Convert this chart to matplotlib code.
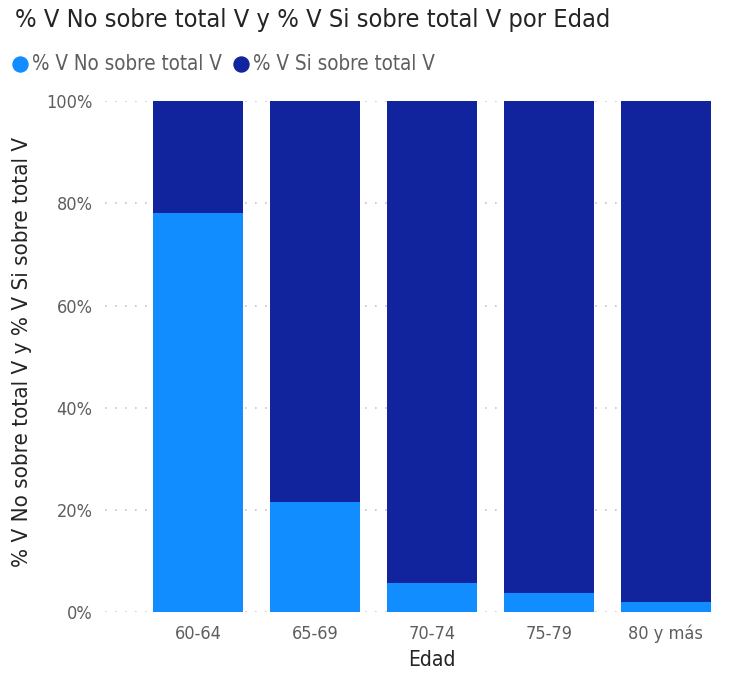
import matplotlib.pyplot as plt
import numpy as np
from matplotlib.lines import Line2D

plt.rcParams['font.family'] = ['DejaVu Sans']
plt.rcParams['font.stretch'] = 'condensed'

edades = ["60-64", "65-69", "70-74", "75-79", "80 y más"]
pct_no = [0.781, 0.216, 0.057, 0.038, 0.020]
pct_si = [1 - v for v in pct_no]

color_no = "#118DFF"
color_si = "#12239E"

fig = plt.figure(figsize=(7.3, 6.73), dpi=100)
ax = fig.add_axes([0.144, 0.0906, 0.835, 0.759])

x = np.arange(len(edades))
ax.bar(x, pct_no, width=0.77, color=color_no, zorder=3)
ax.bar(x, pct_si, width=0.77, bottom=pct_no, color=color_si, zorder=3)

ax.set_xlim(-0.795, 4.42)
ax.set_ylim(0, 1)
ax.set_yticks(np.arange(0, 1.01, 0.2))
ax.set_yticklabels([f"{int(round(v * 100))}%" for v in np.arange(0, 1.01, 0.2)])
ax.set_xticks(x)
ax.set_xticklabels(edades)
ax.tick_params(axis='both', length=0, labelsize=13, labelcolor="#605E5C")
ax.tick_params(axis='y', pad=9)
ax.tick_params(axis='x', pad=9)

ax.grid(axis='y', color="#C8C6C4", linestyle=(0, (1, 5)), linewidth=1.2, zorder=0)
for s in ax.spines.values():
    s.set_visible(False)

# axis titles centred on the bars, as in the original
ax.text(np.mean(x), -0.094, "Edad", transform=ax.get_xaxis_transform(),
        fontsize=15, color="#252423", ha='center', va='center')
fig.text(0.030, 0.477, "% V No sobre total V y % V Si sobre total V", rotation=90,
         fontsize=16, color="#252423", ha='center', va='center')

fig.text(0.020, 0.988, "% V No sobre total V y % V Si sobre total V por Edad",
         fontsize=18.2, color="#252423", va='top', ha='left')

# legend
ly = 1 - 64 / 673
fig.add_artist(Line2D([20 / 730], [ly], marker='o', markersize=10.8, color=color_no,
                      linestyle='none', transform=fig.transFigure))
fig.text(32 / 730, ly, "% V No sobre total V", color="#605E5C", fontsize=14.8, va='center', ha='left')
fig.add_artist(Line2D([241 / 730], [ly], marker='o', markersize=10.8, color=color_si,
                      linestyle='none', transform=fig.transFigure))
fig.text(253 / 730, ly, "% V Si sobre total V", color="#605E5C", fontsize=14.8, va='center', ha='left')

fig.savefig("out.png", dpi=100)
